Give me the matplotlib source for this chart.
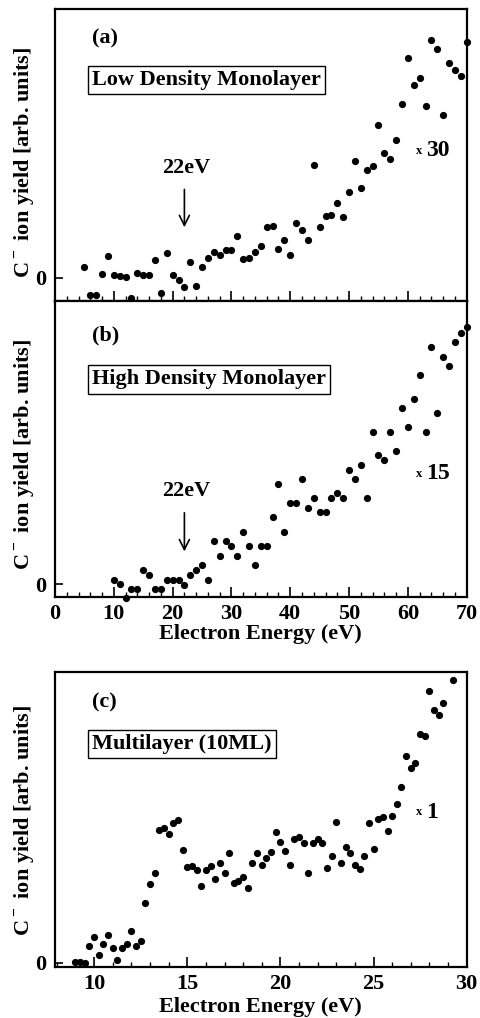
import matplotlib
matplotlib.use("Agg")
import matplotlib.pyplot as plt
from matplotlib.ticker import MultipleLocator

plt.rcParams['font.family'] = ['Liberation Serif', 'DejaVu Serif']
plt.rcParams['font.weight'] = 'bold'
plt.rcParams['mathtext.fontset'] = 'custom'
plt.rcParams['mathtext.rm'] = 'Liberation Serif:bold'
plt.rcParams['mathtext.bf'] = 'Liberation Serif:bold'

# ---------------- data ----------------
a_energy = [5, 6, 7, 8, 9, 10, 11, 12, 13, 14, 15, 16, 17, 18, 19, 20, 21, 22, 23, 24,
            25, 26, 27, 28, 29, 30, 31, 32, 33, 34, 35, 36, 37, 38, 39, 40, 41, 42, 43, 44,
            45, 46, 47, 48, 49, 50, 51, 52, 53, 54, 55, 56, 57, 58, 59, 60, 61, 62, 63, 64,
            65, 66, 67, 68, 69, 70]
a_yield = [0.33, -0.52, -0.53, 0.10, 0.66, 0.09, 0.06, 0.01, -0.60, 0.13, 0.07, 0.09, 0.53,
           -0.47, 0.75, 0.09, -0.07, -0.27, 0.47, -0.26, 0.31, 0.60, 0.77, 0.69, 0.82, 0.83,
           1.26, 0.55, 0.59, 0.77, 0.95, 1.51, 1.56, 0.85, 1.14, 0.69, 1.64, 1.42, 1.13, 3.39,
           1.53, 1.85, 1.88, 2.25, 1.82, 2.56, 3.51, 2.68, 3.24, 3.34, 4.57, 3.73, 3.55, 4.14,
           5.22, 6.59, 5.78, 6.00, 5.15, 7.12, 6.86, 4.88, 6.45, 6.24, 6.04, 7.07]

b_energy = [10, 11, 12, 13, 14, 15, 16, 17, 18, 19, 20, 21, 22, 23, 24, 25, 26, 27, 28, 29,
            30, 31, 32, 33, 34, 35, 36, 37, 38, 39, 40, 41, 42, 43, 44, 45, 46, 47, 48, 49,
            50, 51, 52, 53, 54, 55, 56, 57, 58, 59, 60, 61, 62, 63, 64, 65, 66, 67, 68, 69, 70]
b_yield = [0.14, 0.0, -0.41, -0.14, -0.14, 0.44, 0.28, -0.14, -0.14, 0.14, 0.14, 0.14, -0.01,
           0.28, 0.43, 0.57, 0.14, 1.29, 0.86, 1.29, 1.14, 0.86, 1.57, 1.14, 0.57, 1.14, 1.14,
           2.0, 3.0, 1.57, 2.43, 2.43, 3.15, 2.29, 2.57, 2.15, 2.15, 2.57, 2.72, 2.57, 3.43,
           3.15, 3.57, 2.57, 4.56, 3.86, 3.71, 4.56, 4.0, 5.27, 4.70, 5.55, 6.26, 4.56, 7.10,
           5.13, 6.81, 6.54, 7.24, 7.52, 7.68]

c_energy = [9.0, 9.25, 9.5, 9.75, 10.0, 10.25, 10.5, 10.75, 11.0, 11.25, 11.5, 11.75, 12.0,
            12.25, 12.5, 12.75, 13.0, 13.25, 13.5, 13.75, 14.0, 14.25, 14.5, 14.75, 15.0,
            15.25, 15.5, 15.75, 16.0, 16.25, 16.5, 16.75, 17.0, 17.25, 17.5, 17.75, 18.0,
            18.25, 18.5, 18.75, 19.0, 19.25, 19.5, 19.75, 20.0, 20.25, 20.5, 20.75, 21.0,
            21.25, 21.5, 21.75, 22.0, 22.25, 22.5, 22.75, 23.0, 23.25, 23.5, 23.75, 24.0,
            24.25, 24.5, 24.75, 25.0, 25.25, 25.5, 25.75, 26.0, 26.25, 26.5, 26.75, 27.0,
            27.25, 27.5, 27.75, 28.0, 28.25, 28.5, 28.75, 29.25]
c_yield = [0.02, 0.02, 0.0, 0.49, 0.76, 0.23, 0.55, 0.84, 0.43, 0.09, 0.45, 0.55, 0.96, 0.49,
           0.66, 1.79, 2.34, 2.68, 3.97, 4.03, 3.84, 4.17, 4.26, 3.38, 2.87, 2.90, 2.77, 2.29,
           2.76, 2.88, 2.51, 2.99, 2.67, 3.28, 2.37, 2.45, 2.57, 2.23, 2.97, 3.27, 2.93, 3.14,
           3.32, 3.90, 3.62, 3.35, 2.91, 3.69, 3.77, 3.59, 2.68, 3.57, 3.70, 3.58, 2.84, 3.19,
           4.20, 2.97, 3.46, 3.29, 2.92, 2.81, 3.19, 4.19, 3.41, 4.31, 4.35, 3.93, 4.40, 4.75,
           5.25, 6.20, 5.83, 5.99, 6.83, 6.77, 8.12, 7.55, 7.41, 7.78, 8.45]

panel_labels = ['(a)', '(b)', '(c)']
box_labels = ['Low Density Monolayer', 'High Density Monolayer', 'Multilayer (10ML)']
scale_labels = ['30', '15', '1']
ylabel = r'C$^{\bf -}$ ion yield [arb. units]'
xlabel = 'Electron Energy (eV)'

# ---------------- figure ----------------
W, H = 481, 1018
fig = plt.figure(figsize=(W / 100, H / 100), dpi=100)

def rect(top, bottom, left=55, right=466.7):
    return [left / W, 1 - bottom / H, (right - left) / W, (bottom - top) / H]

ax_a = fig.add_axes(rect(9, 301))
ax_b = fig.add_axes(rect(301, 597))
ax_c = fig.add_axes(rect(672, 967))

TICK_FS = 16
LAB_FS = 16
TXT_FS = 16

def style(ax, xlim, ylim, major, minor, show_xlabels, ylab_y):
    ax.set_xlim(*xlim)
    ax.set_ylim(*ylim)
    for s in ax.spines.values():
        s.set_linewidth(1.6)
    ax.xaxis.set_major_locator(MultipleLocator(major))
    ax.xaxis.set_minor_locator(MultipleLocator(minor))
    ax.set_yticks([0])
    ax.set_yticklabels(['0'])
    ax.tick_params(axis='x', which='major', direction='in', length=7, width=1.2,
                   labelsize=TICK_FS, pad=5, labelbottom=show_xlabels)
    ax.tick_params(axis='x', which='minor', direction='in', length=3.5, width=1.0)
    ax.tick_params(axis='y', which='major', direction='in', length=6, width=1.2,
                   labelsize=TICK_FS, pad=6)
    ax.set_ylabel(ylabel, fontsize=LAB_FS, fontweight='bold')
    ax.yaxis.set_label_coords(-0.045, ylab_y)

style(ax_a, (0, 70), (-0.70, 8.06), 10, 2, False, 0.476)
style(ax_b, (0, 70), (-0.38, 8.47), 10, 2, True, 0.48)
style(ax_c, (7.9, 30), (-0.13, 8.70), 5, 1, True, 0.495)
ax_b.set_xlabel(xlabel, fontsize=LAB_FS, fontweight='bold', labelpad=0)
ax_c.set_xlabel(xlabel, fontsize=LAB_FS, fontweight='bold', labelpad=2)

for ax, x, y in [(ax_a, a_energy, a_yield), (ax_b, b_energy, b_yield), (ax_c, c_energy, c_yield)]:
    ax.plot(x, y, 'o', color='black', markersize=5.2, markeredgewidth=0, clip_on=False, zorder=3)

# panel labels and boxes
for ax, pl, bl, py, by in [(ax_a, panel_labels[0], box_labels[0], 0.90, 0.757),
                           (ax_b, panel_labels[1], box_labels[1], 0.885, 0.735),
                           (ax_c, panel_labels[2], box_labels[2], 0.898, 0.756)]:
    ax.text(0.09, py, pl, transform=ax.transAxes, fontsize=TXT_FS, fontweight='bold',
            ha='left', va='center')
    ax.text(0.09, by, bl, transform=ax.transAxes, fontsize=TXT_FS, fontweight='bold',
            ha='left', va='center',
            bbox=dict(boxstyle='square,pad=0.2', facecolor='white', edgecolor='black', linewidth=1.0))

# 22 eV arrows
ax_a.annotate('', xy=(22, 1.43), xytext=(22, 2.73),
              arrowprops=dict(arrowstyle='->', color='black', lw=1.2, mutation_scale=18))
ax_a.text(22.3, 3.0, '22eV', fontsize=TXT_FS, fontweight='bold', ha='center', va='bottom')
ax_b.annotate('', xy=(22, 0.90), xytext=(22, 2.22),
              arrowprops=dict(arrowstyle='->', color='black', lw=1.2, mutation_scale=18))
ax_b.text(22.3, 2.5, '22eV', fontsize=TXT_FS, fontweight='bold', ha='center', va='bottom')

# scale factors
for ax, xs, ys, lab in [(ax_a, 61.9, 3.8, scale_labels[0]),
                        (ax_b, 61.9, 3.3, scale_labels[1]),
                        (ax_c, 27.45, 4.5, scale_labels[2])]:
    ax.annotate('x', xy=(xs, ys), xycoords='data', fontsize=9, fontweight='bold',
                ha='center', va='center')
    ax.annotate(lab, xy=(xs, ys), xycoords='data', xytext=(5, 0), textcoords='offset points',
                fontsize=17, fontweight='bold', ha='left', va='center')

fig.savefig('out.png', dpi=100)
